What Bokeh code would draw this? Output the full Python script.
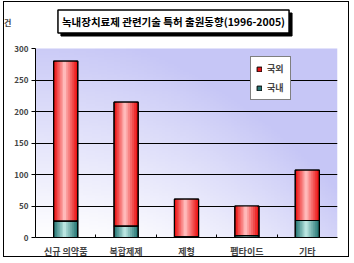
import numpy as np
from bokeh.plotting import figure
from bokeh.models import (Range1d, FixedTicker, Label, Legend, LegendItem, InlineStyleSheet)
from bokeh.embed import file_html
from bokeh.resources import INLINE

categories = ["신규 의약품", "복합제제", "제형", "펩타이드", "기타"]
domestic = [26, 18, 1, 3, 27]      # 국내
foreign = [254, 197, 60, 47, 80]   # 국외
y_ticks = [0, 50, 100, 150, 200, 250, 300]
title_text = "녹내장치료제 관련기술 특허 출원동향(1996-2005)"
unit_text = "건"

FONT = "Noto Sans CJK KR"
n = len(categories)
xs = [i + 0.5 for i in range(n)]
totals = [d + f for d, f in zip(domestic, foreign)]
y_max = y_ticks[-1]

# frame spans from canvas top to y=237; the value axis (0..300) occupies y 48..237
frame_h, axis_h = 237, 189
y_end = y_max * frame_h / axis_h

css = InlineStyleSheet(css="""
:host { position: relative; }
:host::after { content: ""; position: absolute; left: 3px; top: 1px; width: 346px; height: 256px;
  box-sizing: border-box; border: 1.5px solid black; pointer-events: none; z-index: 10; }
""")

p = figure(width=354, height=263, output_backend="svg", toolbar_location=None, title=None,
           x_range=Range1d(0, n), y_range=Range1d(0, y_end),
           min_border_left=29, min_border_right=17, min_border_top=0, min_border_bottom=26)
p.stylesheets = [css]
p.background_fill_color = "white"
p.border_fill_color = "white"
p.outline_line_color = None

# gradient background of the value area
H, W = 100, 100
v = np.linspace(0, 1, H)[:, None]
h = np.linspace(0, 1, W)[None, :]
lav = np.clip(0.9 * v + 0.75 * h ** 2, 0, 1)
c0 = np.array([255, 255, 255])
c1 = np.array([198, 198, 246])
img = np.zeros((H, W), dtype=np.uint32)
view = img.view(dtype=np.uint8).reshape((H, W, 4))
for k in range(3):
    view[:, :, k] = (c0[k] * (1 - lav) + c1[k] * lav).astype(np.uint8)
view[:, :, 3] = 255
p.image_rgba(image=[img], x=0, y=0, dw=n, dh=y_max, level="image")

# grid
p.xgrid.visible = False
p.ygrid.ticker = FixedTicker(ticks=y_ticks[1:-1])
p.ygrid.grid_line_color = "black"
p.ygrid.grid_line_width = 1
p.ygrid.level = "underlay"

def layered(bottom, top, edge, light):
    widths = [0.40, 0.34, 0.28, 0.22, 0.16, 0.10, 0.05]
    base = None
    for j, w in enumerate(widths):
        t = j / (len(widths) - 1)
        col = tuple(int(edge[k] * (1 - t) + light[k] * t) for k in range(3))
        r = p.vbar(x=[x - 0.02 * t for x in xs], width=w, bottom=bottom, top=top,
                   fill_color="#%02x%02x%02x" % col,
                   line_color="black" if j == 0 else None, line_width=1)
        if j == 0:
            base = r
    return base

r_dom = layered([0] * n, domestic, (40, 120, 118), (185, 228, 224))
r_for = layered(domestic, totals, (235, 20, 20), (255, 185, 185))
p.vbar(x=xs, width=0.40, bottom=[0] * n, top=domestic, fill_color=None, line_color="black", line_width=1.2)
p.vbar(x=xs, width=0.40, bottom=domestic, top=totals, fill_color=None, line_color="black", line_width=1.2)

# axes
p.yaxis.ticker = FixedTicker(ticks=y_ticks)
p.yaxis.bounds = (0, y_max)
p.yaxis.major_tick_in = 0
p.yaxis.major_tick_out = 4
p.yaxis.minor_tick_line_color = None
p.yaxis.major_label_text_font = FONT
p.yaxis.major_label_text_font_style = "bold"
p.yaxis.major_label_text_font_size = "8px"
p.yaxis.major_label_standoff = 3
p.yaxis.axis_line_color = "black"

p.xaxis.ticker = FixedTicker(ticks=xs, minor_ticks=list(range(1, n)))
p.xaxis.major_label_overrides = {x: c for x, c in zip(xs, categories)}
p.xaxis.major_tick_in = 0
p.xaxis.major_tick_out = 0
p.xaxis.minor_tick_in = 3
p.xaxis.minor_tick_out = 0
p.xaxis.major_label_text_font = FONT
p.xaxis.major_label_text_font_style = "bold"
p.xaxis.major_label_text_font_size = "9px"
p.xaxis.major_label_standoff = 7
p.xaxis.axis_line_color = "black"

# legend
legend = Legend(items=[LegendItem(label="국외", renderers=[r_for]),
                       LegendItem(label="국내", renderers=[r_dom])],
                location=(215, 137), orientation="vertical",
                glyph_width=6, glyph_height=6, label_text_font=FONT,
                label_text_font_style="bold", label_text_font_size="9px",
                label_height=10, label_width=18, spacing=6, padding=5, margin=0,
                border_line_color="black", border_line_width=1,
                background_fill_color="white", background_fill_alpha=1,
                label_standoff=5)
p.add_layout(legend)

# title with shadow (inside the frame's upper white area)
p.add_layout(Label(x=176, y=24, x_units="canvas", y_units="canvas", text=title_text,
                   text_align="center", text_baseline="middle", text_font=FONT,
                   text_font_style="bold", text_font_size="10.5px", text_color="black",
                   background_fill_color="black", border_line_color="black", padding=4))
p.add_layout(Label(x=173, y=21, x_units="canvas", y_units="canvas", text=title_text,
                   text_align="center", text_baseline="middle", text_font=FONT,
                   text_font_style="bold", text_font_size="10.5px", text_color="black",
                   background_fill_color="white", border_line_color="black",
                   border_line_width=1.5, padding=4))

# unit label, pushed down from the top of the axis by two empty lines
p.yaxis.axis_label = "\n\n" + unit_text
p.yaxis.axis_label_orientation = "horizontal"
p.yaxis.axis_label_align = "end"
p.yaxis.axis_label_text_baseline = "top"
p.yaxis.axis_label_text_line_height = 2.0
p.yaxis.axis_label_text_font = FONT
p.yaxis.axis_label_text_font_style = "bold"
p.yaxis.axis_label_text_font_size = "8px"
p.yaxis.axis_label_standoff = 0

open("out.html", "w").write(file_html(p, INLINE))
